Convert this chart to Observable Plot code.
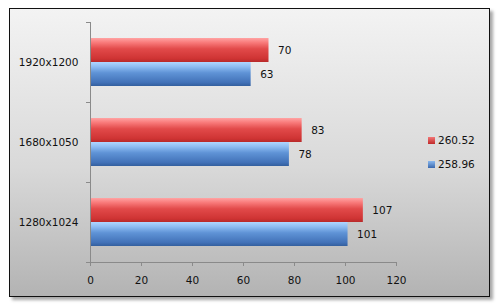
<!DOCTYPE html>
<html>
<head>
<meta charset="utf-8">
<script src="https://cdn.jsdelivr.net/npm/d3@7"></script>
<script src="https://cdn.jsdelivr.net/npm/@observablehq/plot@0.6"></script>
<style>
  html, body { margin: 0; padding: 0; background: #ffffff; }
  #wrap { position: relative; width: 497px; height: 306px; overflow: hidden; }
  #panel {
    position: absolute; left: 9px; top: 8px; width: 479px; height: 287px;
    border: 1px solid #111;
    background: linear-gradient(to bottom, #f3f3f3 0%, #d9d9d9 55%, #b3b3b3 100%);
    box-shadow: 3px 3px 3px rgba(0,0,0,0.35);
  }
  #chart { position: absolute; left: 0; top: 0; }
  .leg { position: absolute; font: 10.5px "DejaVu Sans", sans-serif; color: #111; white-space: nowrap; }
  .leg span.sw { display: inline-block; width: 7px; height: 7px; margin-right: 3px; vertical-align: -0px; }
</style>
</head>
<body>
<div id="wrap">
  <div id="panel"></div>
  <div id="chart"></div>
  <div id="legend"></div>
</div>
<script>
const categories = ["1920x1200", "1680x1050", "1280x1024"];
const seriesNames = ["260.52", "258.96"];
const values26052 = [70, 83, 107];
const values25896 = [63, 78, 101];
const xTicks = [0, 20, 40, 60, 80, 100, 120];

const redData = categories.map((c, i) => ({cat: c, v: values26052[i]}));
const blueData = categories.map((c, i) => ({cat: c, v: values25896[i]}));

const font = "DejaVu Sans, sans-serif";
const axisGrey = "#8a8a8a";

const chart = Plot.plot({
  width: 497,
  height: 306,
  marginLeft: 90,
  marginRight: 101,
  marginTop: 22,
  marginBottom: 44,
  style: {background: "transparent", fontFamily: font, fontSize: "10.5px", color: "#111"},
  x: {domain: [0, 120], axis: null, label: null},
  y: {domain: categories, padding: 0, axis: null, label: null},
  marks: [
    Plot.barX(redData, {x: "v", y: "cat", fill: "url(#gRed)", insetTop: 16, insetBottom: 40}),
    Plot.barX(blueData, {x: "v", y: "cat", fill: "url(#gBlue)", insetTop: 40, insetBottom: 16}),
    Plot.ruleX([0], {stroke: axisGrey}),
    Plot.frame({anchor: "bottom", stroke: axisGrey}),
    Plot.axisY({ticks: categories, tickSize: 0, tickPadding: 12, stroke: "none", fill: "#111", label: null}),
    Plot.axisY({ticks: categories, tickSize: 4, text: null, dy: -40, stroke: axisGrey, label: null}),
    Plot.axisY({ticks: [categories[categories.length - 1]], tickSize: 4, text: null, dy: 40, stroke: axisGrey, label: null}),
    Plot.axisX({ticks: xTicks, tickSize: 4, tickPadding: 10, stroke: axisGrey, fill: "#111", tickFormat: d => String(d), label: null}),
    Plot.text(redData, {x: "v", y: "cat", text: d => String(d.v), dx: 9, dy: -12, textAnchor: "start", fill: "#111"}),
    Plot.text(blueData, {x: "v", y: "cat", text: d => String(d.v), dx: 9, dy: 12, textAnchor: "start", fill: "#111"})
  ]
});

const svg = d3.select(chart);
const defs = svg.insert("defs", ":first-child");
function grad(id, stops) {
  const g = defs.append("linearGradient").attr("id", id).attr("x1", 0).attr("y1", 0).attr("x2", 0).attr("y2", 1);
  stops.forEach(([o, c]) => g.append("stop").attr("offset", o).attr("stop-color", c));
}
grad("gRed", [[0, "#ffa3a3"], [0.2, "#f87878"], [0.45, "#e24a4a"], [0.85, "#cf3434"], [1, "#b82a2a"]]);
grad("gBlue", [[0, "#b0d6ff"], [0.2, "#8dbcf2"], [0.45, "#5f93d6"], [0.85, "#4272b8"], [1, "#335f9e"]]);

document.getElementById("chart").appendChild(chart);

const legendColors = ["linear-gradient(#f27676,#c02a2a)", "linear-gradient(#8ab8ee,#3a68ad)"];
const legendTops = [134, 158];
const legend = document.getElementById("legend");
seriesNames.forEach((name, i) => {
  const d = document.createElement("div");
  d.className = "leg";
  d.style.left = "428px";
  d.style.top = legendTops[i] + "px";
  d.innerHTML = `<span class="sw" style="background:${legendColors[i]}"></span>${name}`;
  legend.appendChild(d);
});
</script>
</body>
</html>
